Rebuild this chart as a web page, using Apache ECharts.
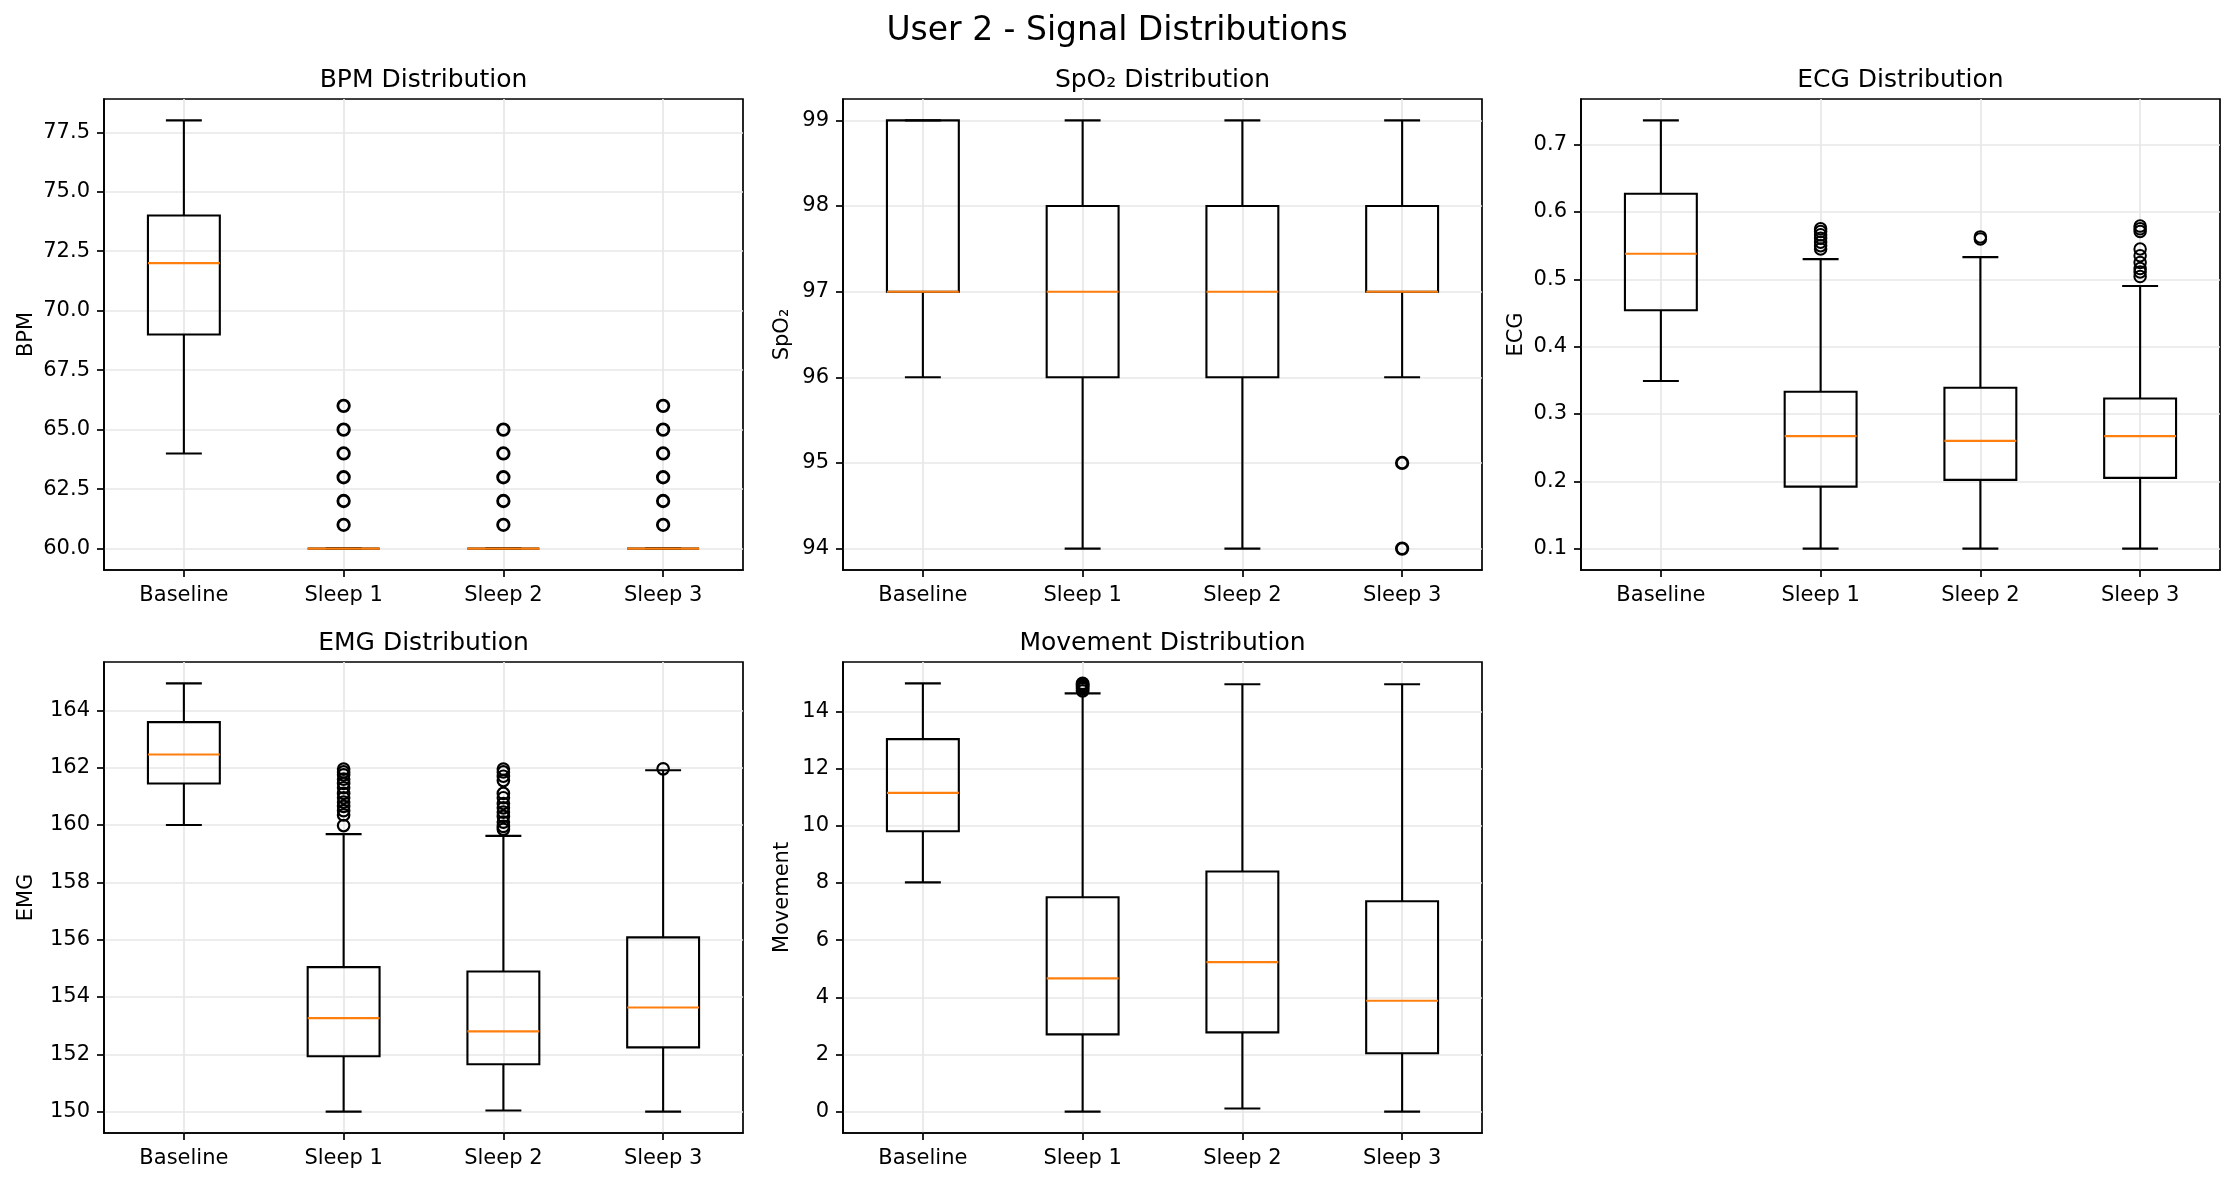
<!DOCTYPE html>
<html>
<head>
<meta charset="utf-8">
<title>User 2 - Signal Distributions</title>
<script src="https://cdn.jsdelivr.net/npm/echarts@6/dist/echarts.min.js"></script>
<style>
  html, body { margin: 0; padding: 0; background: #fff; }
  #chart { width: 2234px; height: 1182px; }
</style>
</head>
<body>
<div id="chart"></div>
<script>
// box stats per session: [lower whisker, q1, median, q3, upper whisker]
var categories = ['Baseline', 'Sleep 1', 'Sleep 2', 'Sleep 3'];

var bpmStats = [[64, 69, 72, 74, 78], [60, 60, 60, 60, 60], [60, 60, 60, 60, 60], [60, 60, 60, 60, 60]];
var bpmOutliers = [[], [61, 62, 63, 64, 65, 66], [61, 62, 63, 64, 65], [61, 62, 63, 64, 65, 66]];
var bpmTicks = [60, 62.5, 65, 67.5, 70, 72.5, 75, 77.5];

var spo2Stats = [[96, 97, 97, 99, 99], [94, 96, 97, 98, 99], [94, 96, 97, 98, 99], [96, 97, 97, 98, 99]];
var spo2Outliers = [[], [], [], [95, 94]];
var spo2Ticks = [94, 95, 96, 97, 98, 99];

var ecgStats = [[0.349, 0.454, 0.538, 0.627, 0.736], [0.100, 0.192, 0.267, 0.333, 0.530],
                [0.100, 0.202, 0.260, 0.339, 0.533], [0.100, 0.205, 0.267, 0.323, 0.490]];
var ecgOutliers = [[], [0.545, 0.550, 0.555, 0.561, 0.566, 0.571, 0.575],
                   [0.560, 0.563],
                   [0.504, 0.511, 0.516, 0.525, 0.535, 0.545, 0.571, 0.575, 0.579]];
var ecgTicks = [0.1, 0.2, 0.3, 0.4, 0.5, 0.6, 0.7];

var emgStats = [[160.0, 161.45, 162.46, 163.59, 164.94], [150.0, 151.93, 153.26, 155.04, 159.68],
                [150.04, 151.65, 152.80, 154.89, 159.62], [150.0, 152.24, 153.63, 156.08, 161.91]];
var emgOutliers = [[],
                   [159.98, 160.35, 160.5, 160.65, 160.8, 160.95, 161.1, 161.3, 161.45, 161.6, 161.75, 161.85, 161.95],
                   [159.85, 159.95, 160.1, 160.3, 160.45, 160.6, 160.75, 160.95, 161.1, 161.55, 161.7, 161.85, 161.95],
                   [161.96]];
var emgTicks = [150, 152, 154, 156, 158, 160, 162, 164];

var moveStats = [[8.02, 9.81, 11.15, 13.03, 14.98], [0, 2.70, 4.66, 7.50, 14.63],
                 [0.11, 2.77, 5.23, 8.40, 14.95], [0, 2.04, 3.88, 7.36, 14.95]];
var moveOutliers = [[], [14.72, 14.8, 14.87, 14.93, 14.98], [], []];
var moveTicks = [0, 2, 4, 6, 8, 10, 12, 14];

var panels = [
  { title: 'BPM Distribution', name: 'BPM', stats: bpmStats, outliers: bpmOutliers, ticks: bpmTicks, digits: 1, left: 104, top: 99, gap: 67, flier: 2.8 },
  { title: 'SpO\u2082 Distribution', name: 'SpO\u2082', stats: spo2Stats, outliers: spo2Outliers, ticks: spo2Ticks, digits: 0, left: 843, top: 99, gap: 50, flier: 2.8 },
  { title: 'ECG Distribution', name: 'ECG', stats: ecgStats, outliers: ecgOutliers, ticks: ecgTicks, digits: 1, left: 1581, top: 99, gap: 54, flier: 2.0 },
  { title: 'EMG Distribution', name: 'EMG', stats: emgStats, outliers: emgOutliers, ticks: emgTicks, digits: 0, left: 104, top: 662, gap: 67, flier: 2.2 },
  { title: 'Movement Distribution', name: 'Movement', stats: moveStats, outliers: moveOutliers, ticks: moveTicks, digits: 0, left: 843, top: 662, gap: 50, flier: 2.4 }
];

var W = 639, H = 471;
var FONT = 'DejaVu Sans';
var black = '#000';
var gridColor = '#e7e7e7';

// matplotlib-like autoscale: data range plus 5% margin
function dataRange(p) {
  var all = [];
  p.stats.forEach(function (s) { all = all.concat(s); });
  p.outliers.forEach(function (o) { all = all.concat(o); });
  var lo = Math.min.apply(null, all), hi = Math.max.apply(null, all);
  var m = (hi - lo) * 0.05;
  return [lo - m, hi + m];
}

function renderBox(params, api) {
  var x = api.value(0);
  var lo = api.coord([x, api.value(1)]);
  var q1 = api.coord([x, api.value(2)]);
  var med = api.coord([x, api.value(3)]);
  var q3 = api.coord([x, api.value(4)]);
  var hi = api.coord([x, api.value(5)]);
  var unit = api.size([1, 0])[0];
  var hw = unit * 0.225, cw = unit * 0.1125;
  var cx = lo[0];
  var st = { stroke: black, lineWidth: 2.1, fill: null };
  return {
    type: 'group',
    children: [
      { type: 'line', shape: { x1: cx, y1: q1[1], x2: cx, y2: lo[1] }, style: st },
      { type: 'line', shape: { x1: cx, y1: q3[1], x2: cx, y2: hi[1] }, style: st },
      { type: 'line', shape: { x1: cx - cw, y1: lo[1], x2: cx + cw, y2: lo[1] }, style: st },
      { type: 'line', shape: { x1: cx - cw, y1: hi[1], x2: cx + cw, y2: hi[1] }, style: st },
      { type: 'rect', shape: { x: cx - hw, y: q3[1], width: hw * 2, height: q1[1] - q3[1] }, style: { stroke: black, lineWidth: 2.1, fill: 'rgba(0,0,0,0)' } },
      { type: 'line', shape: { x1: cx - hw, y1: med[1], x2: cx + hw, y2: med[1] }, style: { stroke: '#ff7f0e', lineWidth: 2.1 } }
    ]
  };
}

var titles = [{
  text: 'User 2 - Signal Distributions',
  left: 1117, top: 15, textAlign: 'center', padding: 0,
  textStyle: { fontFamily: FONT, fontSize: 33, fontWeight: 'normal', color: black }
}];
var grids = [], xAxes = [], yAxes = [], series = [];

panels.forEach(function (p, i) {
  var r = dataRange(p);
  titles.push({
    text: p.title, left: p.left + W / 2, top: p.top - 31, textAlign: 'center', padding: 0,
    textStyle: { fontFamily: FONT, fontSize: 25, fontWeight: 'normal', color: black }
  });
  grids.push({ left: p.left, top: p.top, width: W, height: H, show: true, borderColor: black, borderWidth: 1.7, backgroundColor: 'rgba(0,0,0,0)' });
  xAxes.push({
    type: 'value', gridIndex: i, min: 0.5, max: 4.5,
    axisLine: { show: true, onZero: false, lineStyle: { color: black, width: 1.7 } },
    axisTick: { show: true, customValues: [1, 2, 3, 4], length: 7, lineStyle: { color: black, width: 1.7 } },
    axisLabel: {
      customValues: [1, 2, 3, 4], margin: 15, fontFamily: FONT, fontSize: 21, color: black,
      formatter: function (v) { return categories[Math.round(v) - 1]; }
    },
    splitLine: { show: true, lineStyle: { color: gridColor, width: 1.7 } }
  });
  yAxes.push({
    type: 'value', gridIndex: i, min: r[0], max: r[1],
    name: p.name, nameLocation: 'middle', nameGap: p.gap,
    nameTextStyle: { fontFamily: FONT, fontSize: 21, color: black },
    axisLine: { show: true, onZero: false, lineStyle: { color: black, width: 1.7 } },
    axisTick: { show: true, customValues: p.ticks, length: 7, lineStyle: { color: black, width: 1.7 } },
    axisLabel: {
      customValues: p.ticks, margin: 14, fontFamily: FONT, fontSize: 21, color: black,
      formatter: (function (d) { return function (v) { return v.toFixed(d); }; })(p.digits)
    },
    splitLine: { show: true, lineStyle: { color: gridColor, width: 1.7 } }
  });
  series.push({
    type: 'custom', xAxisIndex: i, yAxisIndex: i, renderItem: renderBox, z: 3,
    encode: { x: 0, y: [1, 2, 3, 4, 5] },
    data: p.stats.map(function (s, j) { return [j + 1].concat(s); })
  });
  var pts = [];
  p.outliers.forEach(function (o, j) { o.forEach(function (v) { pts.push([j + 1, v]); }); });
  series.push({
    type: 'scatter', xAxisIndex: i, yAxisIndex: i, z: 4,
    symbol: 'circle', symbolSize: 11.5,
    itemStyle: { color: 'rgba(0,0,0,0)', borderColor: black, borderWidth: p.flier, opacity: 1 },
    data: pts
  });
});

var chart = echarts.init(document.getElementById('chart'));
chart.setOption({
  backgroundColor: '#fff',
  animation: false,
  textStyle: { fontFamily: FONT },
  title: titles,
  grid: grids,
  xAxis: xAxes,
  yAxis: yAxes,
  series: series
});
</script>
</body>
</html>
